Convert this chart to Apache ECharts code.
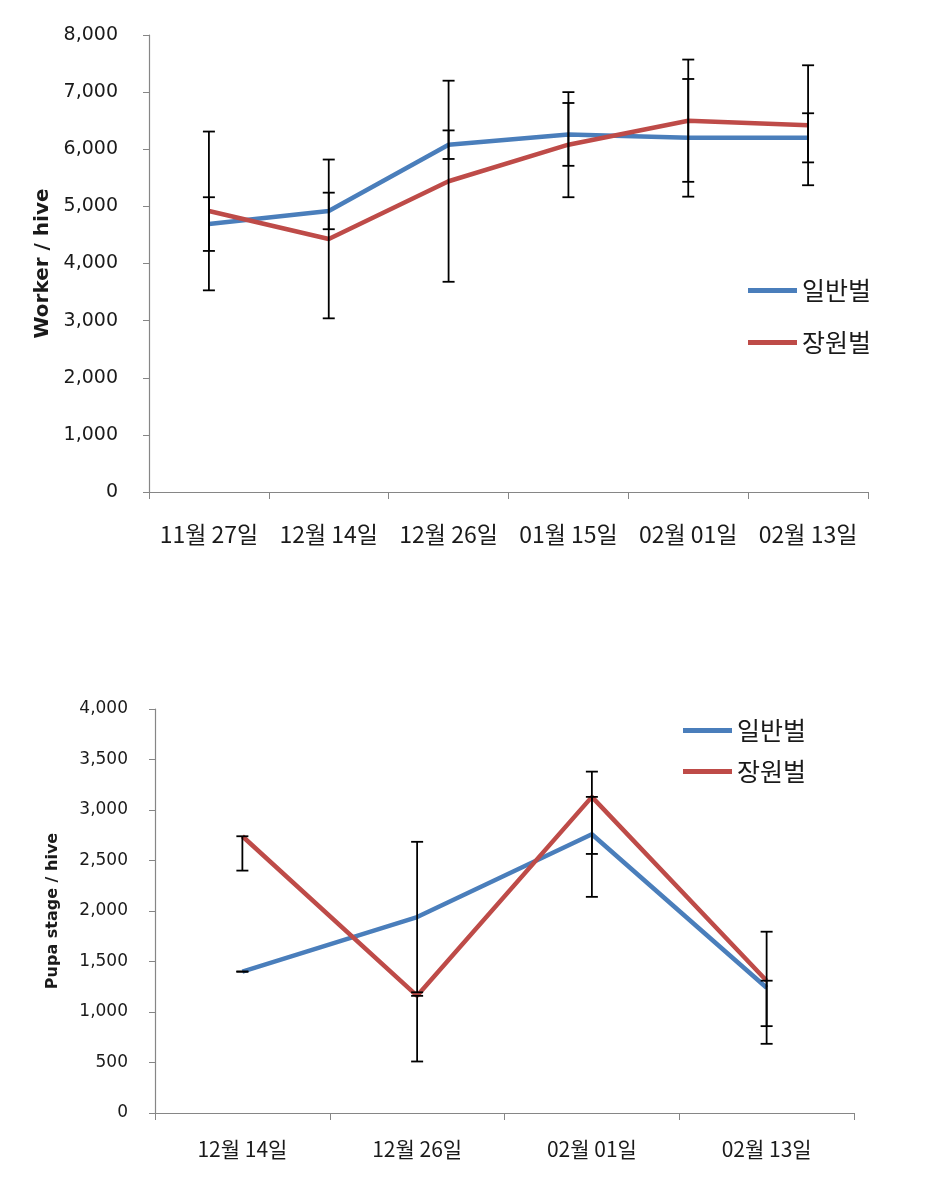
<!DOCTYPE html>
<html>
<head>
<meta charset="utf-8">
<script src="https://cdn.jsdelivr.net/npm/echarts@6/dist/echarts.min.js"></script>
<style>
html,body{margin:0;padding:0;background:#fff;}
#c{width:930px;height:1182px;}
</style>
</head>
<body>
<div id="c"></div>
<script>
// ---------- DATA ----------
var seriesNames = ['일반벌', '장원벌'];

// Chart 1: Worker / hive
var cat1 = ['11월 27일', '12월 14일', '12월 26일', '01월 15일', '02월 01일', '02월 13일'];
var w_normal = [4690, 4920, 6080, 6260, 6200, 6200];
var w_normal_err = [470, 320, 250, 550, 1030, 430];
var w_jangwon = [4920, 4430, 5440, 6080, 6500, 6420];
var w_jangwon_err = [1390, 1390, 1760, 920, 1070, 1050];
var yTicks1 = {min: 0, max: 8000, interval: 1000};

// Chart 2: Pupa stage / hive
var cat2 = ['12월 14일', '12월 26일', '02월 01일', '02월 13일'];
var p_normal = [1400, 1940, 2760, 1240];
var p_normal_errPlus = [0, 745, 620, 555];
var p_normal_errMinus = [0, 745, 620, 555];
var p_jangwon = [2740, 1160, 3130, 1310];
var p_jangwon_errPlus = [0, 0, 0, 0];
var p_jangwon_errMinus = [340, 650, 565, 450];
var yTicks2 = {min: 0, max: 4000, interval: 500};

// ---------- STYLE ----------
var BLUE = '#4a7ebb';
var RED = '#be4b48';
var AXIS = '#868686';
var TXT = '#1a1a1a';
var FONT = '"DejaVu Sans", "Noto Sans CJK KR", sans-serif';
var KFONT = '"Noto Sans CJK KR", sans-serif';

function errData(mean, plus, minus) {
  return mean.map(function (m, i) { return [i, m - minus[i], m + plus[i]]; });
}

function errRender(params, api) {
  var x = api.value(0);
  var lo = api.coord([x, api.value(1)]);
  var hi = api.coord([x, api.value(2)]);
  var hw = 6;
  var st = {stroke: '#000', lineWidth: 1.8};
  return {
    type: 'group',
    children: [
      {type: 'line', shape: {x1: lo[0], y1: lo[1], x2: hi[0], y2: hi[1]}, style: st},
      {type: 'line', shape: {x1: lo[0] - hw, y1: lo[1], x2: lo[0] + hw, y2: lo[1]}, style: st},
      {type: 'line', shape: {x1: hi[0] - hw, y1: hi[1], x2: hi[0] + hw, y2: hi[1]}, style: st}
    ]
  };
}

function errSeries(data, gi) {
  return {
    type: 'custom', xAxisIndex: gi, yAxisIndex: gi, z: 10,
    renderItem: errRender, data: data, silent: true
  };
}

function lineSeries(name, data, color, gi) {
  return {
    name: name, type: 'line', xAxisIndex: gi, yAxisIndex: gi,
    data: data, showSymbol: false, symbol: 'none', smooth: false,
    lineStyle: {color: color, width: 4.5}, itemStyle: {color: color},
    z: 5
  };
}

function xAxisCfg(cats, gi, fs, margin) {
  return {
    type: 'category', gridIndex: gi, data: cats, boundaryGap: true,
    axisLine: {lineStyle: {color: AXIS, width: 1.2}},
    axisTick: {show: true, inside: false, length: 7, lineStyle: {color: AXIS}},
    axisLabel: {color: TXT, fontSize: fs, fontFamily: KFONT, margin: margin, interval: 0},
    splitLine: {show: false}
  };
}

function yAxisCfg(t, gi, fs, margin, name, nfs, ngap) {
  return {
    type: 'value', gridIndex: gi, min: t.min, max: t.max, interval: t.interval,
    name: name, nameLocation: 'middle', nameRotate: 90, nameGap: ngap,
    nameTextStyle: {color: TXT, fontSize: nfs, fontWeight: 'bold', fontFamily: FONT},
    axisLine: {show: true, lineStyle: {color: AXIS, width: 1.2}},
    axisTick: {show: true, inside: false, length: 6, lineStyle: {color: AXIS}},
    axisLabel: {color: TXT, fontSize: fs, fontFamily: FONT, margin: margin,
      formatter: function (v) { return v.toLocaleString('en-US'); }},
    splitLine: {show: false}
  };
}

var chart = echarts.init(document.getElementById('c'), null, {renderer: 'canvas'});
chart.setOption({
  backgroundColor: '#fff',
  animation: false,
  grid: [
    {left: 149, top: 35, width: 719, height: 457},
    {left: 155, top: 709, width: 699, height: 404}
  ],
  legend: [
    {
      orient: 'vertical', left: 748, top: 278, itemGap: 27, padding: 0,
      icon: 'rect', itemWidth: 49, itemHeight: 5,
      textStyle: {fontSize: 25, color: TXT, fontFamily: KFONT, lineHeight: 25},
      data: seriesNames
    },
    {
      orient: 'vertical', left: 683, top: 718, itemGap: 16, padding: 0,
      icon: 'rect', itemWidth: 49, itemHeight: 5,
      textStyle: {fontSize: 25, color: TXT, fontFamily: KFONT, lineHeight: 25},
      data: seriesNames
    }
  ],
  xAxis: [
    xAxisCfg(cat1, 0, 23, 31),
    xAxisCfg(cat2, 1, 21, 26)
  ],
  yAxis: [
    yAxisCfg(yTicks1, 0, 19, 31, 'Worker / hive', 20, 93),
    yAxisCfg(yTicks2, 1, 17, 27, 'Pupa stage / hive', 16, 94)
  ],
  series: [
    lineSeries(seriesNames[0], w_normal, BLUE, 0),
    lineSeries(seriesNames[1], w_jangwon, RED, 0),
    errSeries(errData(w_normal, w_normal_err, w_normal_err), 0),
    errSeries(errData(w_jangwon, w_jangwon_err, w_jangwon_err), 0),
    lineSeries(seriesNames[0], p_normal, BLUE, 1),
    lineSeries(seriesNames[1], p_jangwon, RED, 1),
    errSeries(errData(p_normal, p_normal_errPlus, p_normal_errMinus), 1),
    errSeries(errData(p_jangwon, p_jangwon_errPlus, p_jangwon_errMinus), 1)
  ]
});
</script>
</body>
</html>
